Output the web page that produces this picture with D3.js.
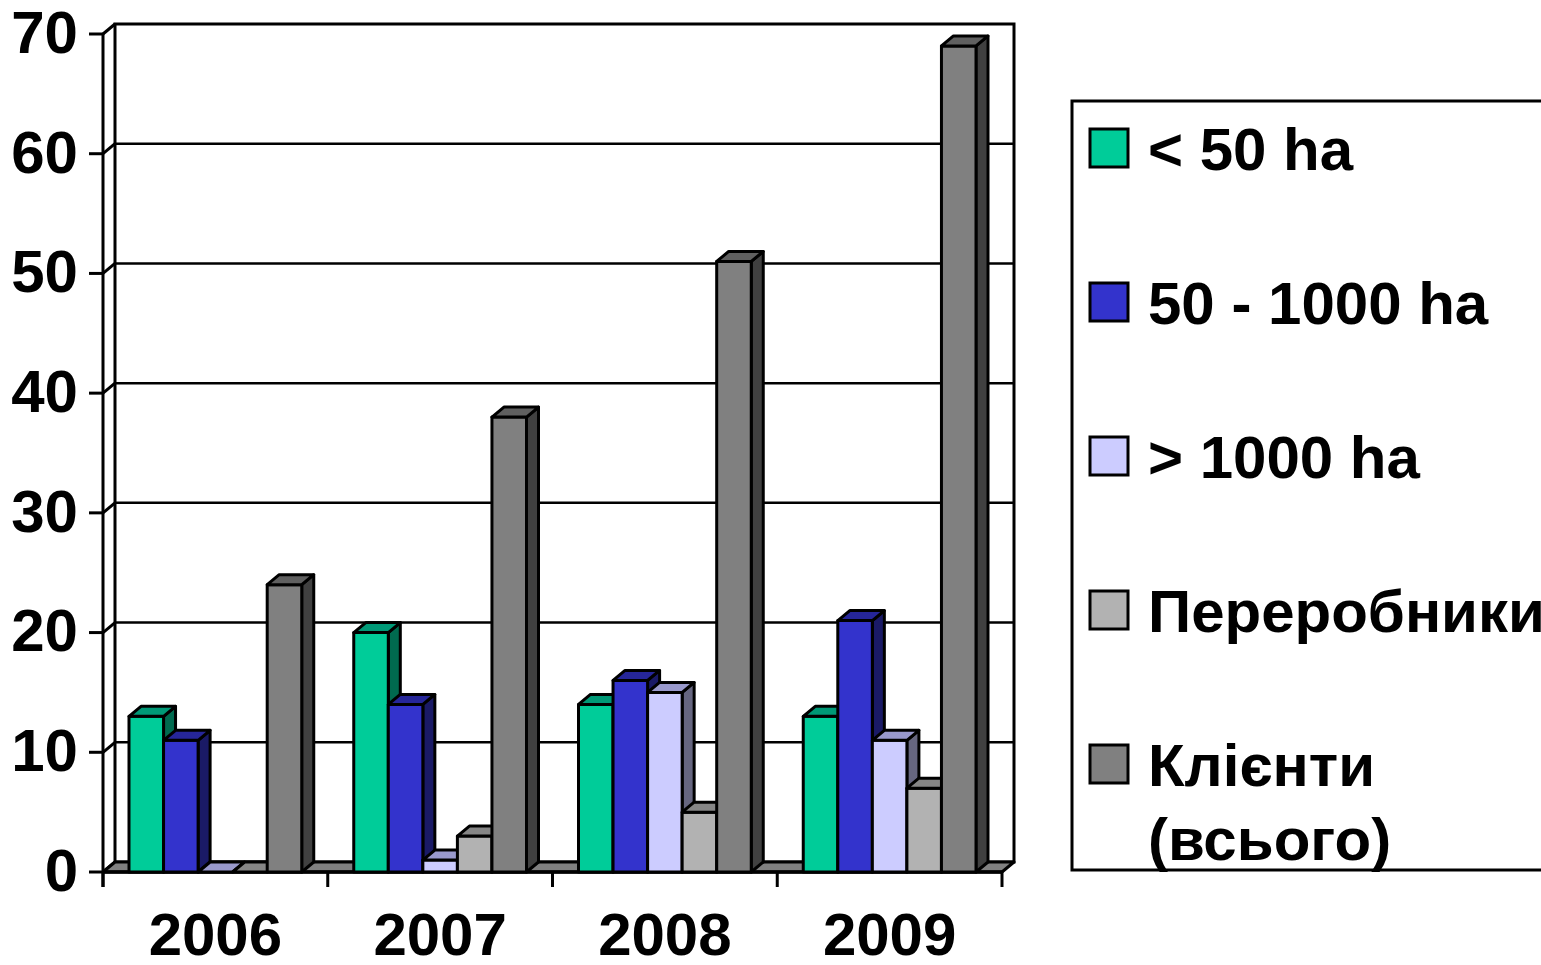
<!DOCTYPE html>
<html>
<head>
<meta charset="utf-8">
<script src="https://cdn.jsdelivr.net/npm/d3@7"></script>
<style>
  body { margin: 0; background: #fff; }
  text { font-family: "Liberation Sans", Arial, sans-serif; font-weight: bold; fill: #000; }
</style>
</head>
<body>
<svg id="chart" width="1541" height="965"></svg>
<script>
// data
var years = ['2006', '2007', '2008', '2009'];
var seriesNames = ['< 50 ha', '50 - 1000 ha', '> 1000 ha', 'Переробники', 'Клієнти (всього)'];
var small = [13, 20, 14, 13];
var medium = [11, 14, 16, 21];
var large = [0, 1, 15, 11];
var processors = [0, 3, 5, 7];
var clients = [24, 38, 51, 69];
var yTicks = [0, 10, 20, 30, 40, 50, 60, 70];

var allSeries = [small, medium, large, processors, clients];
// front / top / side colours for each series
var fronts = ['#00cc99', '#3333cc', '#ccccff', '#b2b2b2', '#808080'];
var tops = ['#009977', '#262699', '#9999cc', '#868686', '#606060'];
var sides = ['#006a4f', '#1a1a66', '#666680', '#595959', '#404040'];

var left = 103, right = 1002, floorY = 872, topY = 34;
var dx = 12, dy = -10; // depth of the 3d box

var svg = d3.select('#chart');

var y = d3.scaleLinear().domain([0, 70]).range([floorY, topY]);
var x = d3.scaleBand().domain(years).range([left, right]);
var inner = d3.scaleBand().domain(d3.range(5))
        .range([26, x.bandwidth() - 26]);

var g = svg.append('g');

// back wall
g.append('rect')
    .attr('x', left + dx).attr('y', topY + dy)
    .attr('width', right - left).attr('height', floorY - topY)
    .attr('fill', '#fff').attr('stroke', '#000').attr('stroke-width', 3);

// gridlines on the back wall + left wall
yTicks.forEach(function(t){
    if (t > 0 && t < 70) {
        g.append('line')
            .attr('x1', left + dx).attr('x2', right + dx)
            .attr('y1', y(t) + dy).attr('y2', y(t) + dy)
            .attr('stroke', '#000').attr('stroke-width', 2.5);
    }
    g.append('line')
        .attr('x1', left).attr('x2', left + dx)
        .attr('y1', y(t)).attr('y2', y(t) + dy)
        .attr('stroke', '#000').attr('stroke-width', 3);
    g.append('line')
        .attr('x1', left - 14).attr('x2', left)
        .attr('y1', y(t)).attr('y2', y(t))
        .attr('stroke', '#000').attr('stroke-width', 3);
    g.append('text')
        .attr('x', 78).attr('y', y(t) + 3)
        .attr('text-anchor', 'end')
        .attr('dominant-baseline', 'middle')
        .style('font-size', '60px')
        .text(t);
});

// front vertical axis line
g.append('line')
    .attr('x1', left).attr('x2', left)
    .attr('y1', topY).attr('y2', floorY + 15)
    .attr('stroke', '#000').attr('stroke-width', 3);

// floor
var floorPts = [[left, floorY], [right, floorY], [right + dx, floorY + dy], [left + dx, floorY + dy]];
g.append('polygon')
    .attr('points', floorPts.map(p => p.join(',')).join(' '))
    .attr('fill', '#808080').attr('stroke', '#000').attr('stroke-width', 3)
    .attr('stroke-linejoin', 'round');

// x ticks
var tickXs = years.map(yr => x(yr)).concat([right]);
tickXs.forEach(function(tx){
    g.append('line')
        .attr('x1', tx).attr('x2', tx)
        .attr('y1', floorY).attr('y2', floorY + 15)
        .attr('stroke', '#000').attr('stroke-width', 3);
});
g.append('line')
    .attr('x1', left).attr('x2', right)
    .attr('y1', floorY).attr('y2', floorY)
    .attr('stroke', '#000').attr('stroke-width', 3.5);

years.forEach(function(yr){
    g.append('text')
        .attr('x', x(yr) + x.bandwidth() / 2)
        .attr('y', 939)
        .attr('text-anchor', 'middle')
        .attr('dominant-baseline', 'middle')
        .style('font-size', '60px')
        .text(yr);
});

// bars
var bars = g.append('g');
years.forEach(function(yr, i){
    allSeries.forEach(function(ser, s){
        var v = ser[i];
        var x0 = x(yr) + inner(s), x1 = x0 + inner.bandwidth();
        var yt = y(v), yb = floorY;
        var bg = bars.append('g')
            .attr('stroke', '#000').attr('stroke-width', 3)
            .attr('stroke-linejoin', 'round');
        // side
        if (v > 0) {
            bg.append('polygon')
                .attr('points', [[x1, yb], [x1 + dx, yb + dy], [x1 + dx, yt + dy], [x1, yt]].map(p => p.join(',')).join(' '))
                .attr('fill', sides[s]);
            bg.append('rect')
                .attr('x', x0).attr('y', yt)
                .attr('width', x1 - x0).attr('height', yb - yt)
                .attr('fill', fronts[s]);
        }
        // top
        bg.append('polygon')
            .attr('points', [[x0, yt], [x1, yt], [x1 + dx, yt + dy], [x0 + dx, yt + dy]].map(p => p.join(',')).join(' '))
            .attr('fill', tops[s]);
    });
});

// legend
var legend = svg.append('g');
legend.append('rect')
    .attr('x', 1072).attr('y', 101)
    .attr('width', 500).attr('height', 769)
    .attr('fill', '#fff').attr('stroke', '#000').attr('stroke-width', 3);

var rowY = [148, 302, 456, 610, 764];
seriesNames.forEach(function(name, s){
    legend.append('rect')
        .attr('x', 1090).attr('y', rowY[s] - 19)
        .attr('width', 38).attr('height', 38)
        .attr('fill', fronts[s]).attr('stroke', '#000').attr('stroke-width', 3);
    var lines = s === 4 ? ['Клієнти', '(всього)'] : [name];
    lines.forEach(function(l, k){
        legend.append('text')
            .attr('x', 1148).attr('y', rowY[s] + k * 74 + 22)
            .style('font-size', '60px')
            .text(l);
    });
});
</script>
</body>
</html>
